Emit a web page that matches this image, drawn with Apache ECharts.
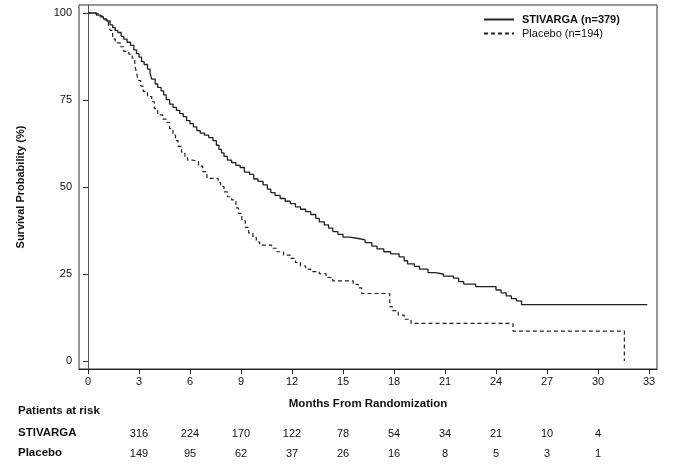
<!DOCTYPE html>
<html>
<head>
<meta charset="UTF-8">
<script src="https://cdn.jsdelivr.net/npm/echarts@6/dist/echarts.min.js"></script>
<style>
html, body { margin: 0; padding: 0; background: #fff; }
#main { width: 696px; height: 467px; }
</style>
</head>
<body>
<div id="main"></div>
<script type="text/javascript">
// Kaplan-Meier curves: [month, survival %]
var stivarga = [
	[0,100],[0.5,99.4],[0.7,98.9],[0.9,98.3],[1.1,97.7],[1.3,96.6],[1.45,95.8],[1.6,95.0],
	[1.75,94.4],[1.95,93.3],[2.1,92.5],[2.3,91.6],[2.5,90.7],[2.7,89.4],[2.85,88.3],[3.0,87.3],
	[3.15,86.0],[3.3,85.2],[3.5,83.9],[3.65,82.6],[3.75,81.0],[3.95,79.6],[4.1,78.6],[4.3,77.6],
	[4.45,76.5],[4.6,75.1],[4.8,73.8],[5.0,72.9],[5.2,72.0],[5.4,71.1],[5.6,70.2],[5.8,69.1],
	[6.0,68.2],[6.2,67.3],[6.4,66.2],[6.6,65.5],[6.85,64.9],[7.1,64.2],[7.35,63.3],[7.55,62.0],
	[7.7,60.8],[7.85,59.8],[8.0,58.8],[8.2,57.7],[8.45,57.0],[8.7,56.2],[8.95,55.6],[9.2,54.3],
	[9.5,53.6],[9.75,52.3],[10.0,51.6],[10.3,50.6],[10.55,49.4],[10.75,48.4],[11.0,47.6],[11.3,46.7],
	[11.6,45.9],[11.9,45.2],[12.2,44.3],[12.5,43.6],[12.8,42.9],[13.1,42.1],[13.4,41.0],[13.6,40.0],
	[13.9,39.1],[14.15,38.2],[14.4,37.2],[14.7,36.4],[15.0,35.6],[15.4,35.2],[15.9,34.8],[16.3,34.0],
	[16.7,33.0],[17.0,32.2],[17.4,31.4],[17.8,30.8],[18.3,29.9],[18.6,28.8],[18.8,27.9],[19.2,27.2],
	[19.5,26.4],[20.0,25.4],[20.4,25.0],[20.9,24.4],[21.5,23.8],[21.8,22.8],[22.1,22.1],[22.8,21.4],
	[24.0,20.4],[24.3,19.6],[24.6,18.7],[24.9,17.9],[25.2,17.3],[25.5,16.2],[32.9,16.2]
];
var placebo = [
	[0,100],[0.3,99.6],[0.7,98.9],[1.0,98.0],[1.2,96.5],[1.3,95.0],[1.45,92.5],[1.6,91.4],
	[1.9,90.3],[2.1,89.0],[2.4,88.2],[2.6,87.0],[2.75,85.0],[2.85,83.0],[2.95,80.6],[3.1,79.0],
	[3.25,77.5],[3.5,76.0],[3.75,74.5],[3.9,72.5],[4.1,70.7],[4.4,69.5],[4.6,68.6],[4.8,66.8],
	[5.0,64.9],[5.15,63.3],[5.3,61.7],[5.5,60.0],[5.7,58.5],[5.85,57.7],[6.2,57.3],[6.5,56.0],
	[6.75,54.4],[7.0,52.5],[7.65,51.3],[7.8,50.1],[8.0,48.6],[8.2,47.2],[8.45,46.3],[8.7,44.0],
	[8.85,42.4],[9.05,40.3],[9.25,38.4],[9.45,36.8],[9.7,35.5],[9.9,34.2],[10.1,33.3],[10.8,32.4],
	[11.1,31.4],[11.5,30.4],[11.9,29.5],[12.2,28.3],[12.5,27.3],[12.8,26.4],[13.1,25.7],[13.6,25.1],
	[14.0,24.0],[14.4,23.0],[15.6,22.0],[15.9,21.0],[16.1,19.4],[17.75,15.6],[17.9,14.5],[18.25,13.2],
	[18.6,12.0],[19.0,10.8],[25.0,8.6],[31.55,0]
];

var xTicks = [0, 3, 6, 9, 12, 15, 18, 21, 24, 27, 30, 33];
var yTicks = [0, 25, 50, 75, 100];

// patients at risk table
var riskMonths = [3, 6, 9, 12, 15, 18, 21, 24, 27, 30];
var stivargaRisk = [316, 224, 170, 122, 78, 54, 34, 21, 10, 4];
var placeboRisk = [149, 95, 62, 37, 26, 16, 8, 5, 3, 1];

var names = ['STIVARGA (n=379)', 'Placebo (n=194)'];

var font = 'Liberation Sans, Arial, sans-serif';
var xMin = -0.53, xMax = 33.47;

function riskAxis(offset, values) {
	return {
		type: 'value', gridIndex: 0, position: 'bottom', offset: offset,
		min: xMin, max: xMax,
		axisLine: { show: false }, axisTick: { show: false }, splitLine: { show: false },
		axisLabel: {
			customValues: riskMonths, margin: 0, fontSize: 11, color: '#111', fontFamily: font,
			formatter: function (v) {
				var i = riskMonths.indexOf(v);
				return i < 0 ? '' : String(values[i]);
			}
		}
	};
}

var myChart = echarts.init(document.getElementById('main'));

var option = {
	animation: false,
	textStyle: { fontFamily: font },
	grid: {
		left: 79, right: 39, top: 5, bottom: 98,
		show: true, borderColor: '#333', borderWidth: 1, backgroundColor: 'transparent'
	},
	legend: {
		data: names,
		orient: 'vertical',
		left: 483, top: 14, padding: 0,
		itemWidth: 30, itemHeight: 12, itemGap: 3,
		itemStyle: { opacity: 0, borderWidth: 0 },
		textStyle: {
			fontSize: 11, color: '#111', fontFamily: font, padding: [0, 0, 0, 3],
			rich: { b: { fontWeight: 'bold', fontSize: 11, color: '#111', fontFamily: font } }
		},
		formatter: function (n) {
			return n === names[0] ? '{b|' + n + '}' : n;
		}
	},
	xAxis: [
		{
			type: 'value', gridIndex: 0, position: 'bottom',
			min: xMin, max: xMax,
			axisLine: { onZero: false, lineStyle: { color: '#222', width: 1 } },
			axisTick: { customValues: xTicks, length: 5, lineStyle: { color: '#222' } },
			axisLabel: { customValues: xTicks, margin: 7, fontSize: 11, color: '#111', fontFamily: font },
			splitLine: { show: false }
		},
		riskAxis(59, stivargaRisk),
		riskAxis(79, placeboRisk)
	],
	yAxis: {
		type: 'value',
		min: -2.3, max: 102.3,
		name: 'Survival Probability (%)',
		nameLocation: 'middle', nameGap: 53, nameRotate: 90,
		nameTextStyle: { fontSize: 11, fontWeight: 'bold', color: '#111', fontFamily: font },
		axisLine: { show: true, lineStyle: { color: '#555', width: 1 } },
		axisTick: { customValues: yTicks, length: 5, lineStyle: { color: '#333' } },
		axisLabel: { customValues: yTicks, margin: 7, fontSize: 11, color: '#111', fontFamily: font },
		splitLine: { show: false }
	},
	graphic: [
		{ type: 'text', x: 368, y: 404, style: { text: 'Months From Randomization', font: 'bold 11.5px ' + font, fill: '#111', align: 'center', verticalAlign: 'middle' } },
		{ type: 'text', x: 18, y: 411, style: { text: 'Patients at risk', font: 'bold 11.5px ' + font, fill: '#111', verticalAlign: 'middle' } },
		{ type: 'text', x: 18, y: 433, style: { text: 'STIVARGA', font: 'bold 11.5px ' + font, fill: '#111', verticalAlign: 'middle' } },
		{ type: 'text', x: 18, y: 453, style: { text: 'Placebo', font: 'bold 11.5px ' + font, fill: '#111', verticalAlign: 'middle' } }
	],
	series: [
		{
			name: names[0], type: 'line', step: 'end', xAxisIndex: 0,
			symbol: 'none', data: stivarga,
			lineStyle: { color: '#222', width: 1.3, type: 'solid' },
			itemStyle: { color: '#222' }
		},
		{
			name: names[1], type: 'line', step: 'end', xAxisIndex: 0,
			symbol: 'none', data: placebo,
			lineStyle: { color: '#222', width: 1.2, type: [4, 3] },
			itemStyle: { color: '#222' }
		}
	]
};

myChart.setOption(option);
</script>
</body>
</html>
